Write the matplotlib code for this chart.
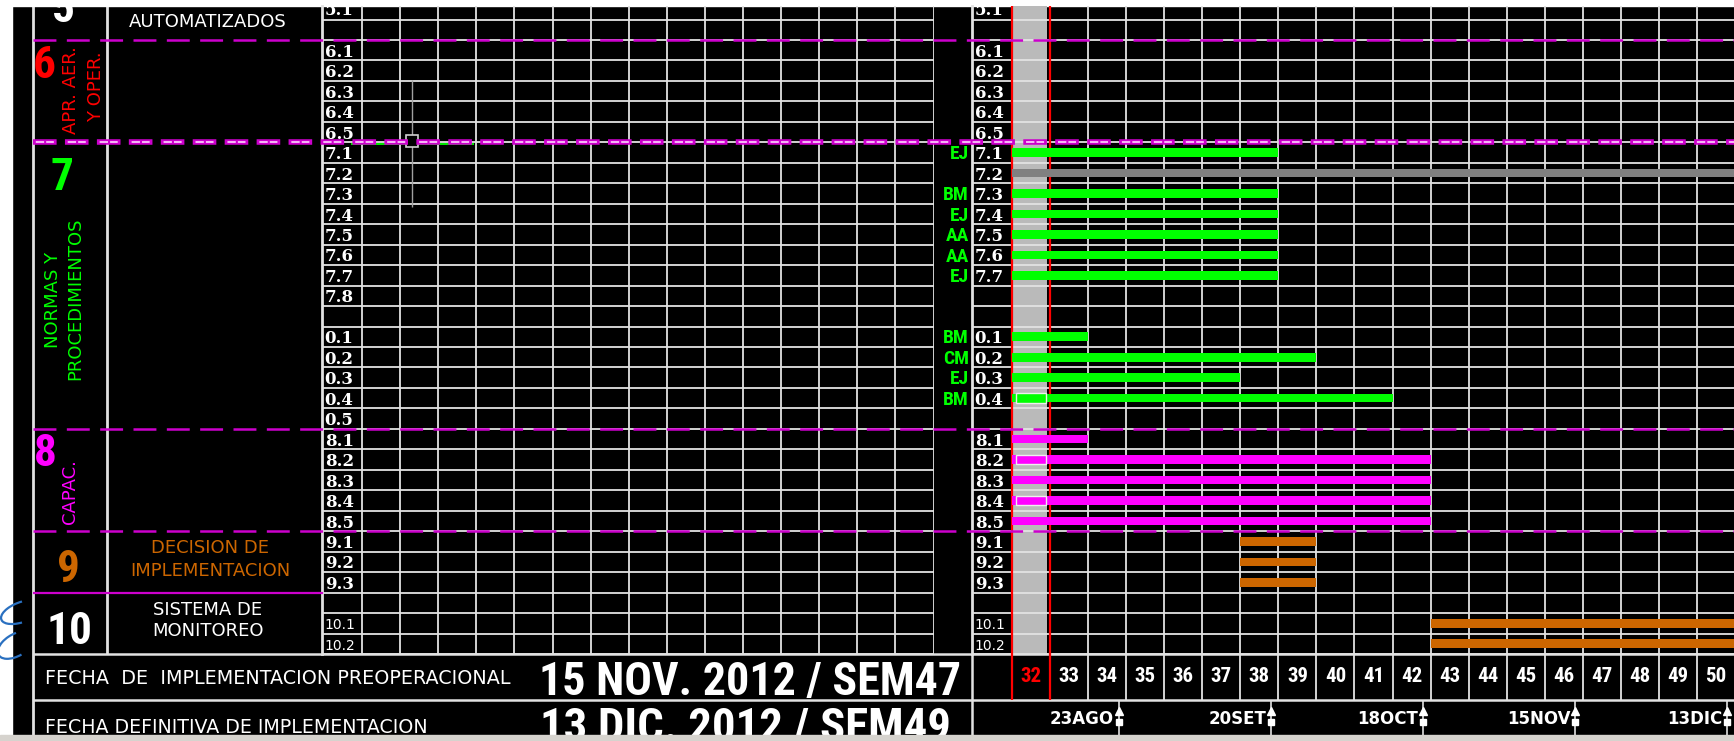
"""
Cronograma de implementacion (semanas 32-50) - recreacion de la hoja.
Salida: out.png
"""
import os
import matplotlib.pyplot as plt
from matplotlib import font_manager
from matplotlib.font_manager import FontProperties
from matplotlib.patches import Rectangle, Arc

plt.rcParams['lines.scale_dashes'] = False
plt.rcParams['font.family'] = 'DejaVu Sans'

# =========================================================
# DATOS
# =========================================================
ROWS = ['6.1', '6.2', '6.3', '6.4', '6.5',
        '7.1', '7.2', '7.3', '7.4', '7.5', '7.6', '7.7', '7.8', '',
        '0.1', '0.2', '0.3', '0.4', '0.5',
        '8.1', '8.2', '8.3', '8.4', '8.5',
        '9.1', '9.2', '9.3', '',
        '10.1', '10.2']
# en el panel derecho 7.8 y 0.5 no tienen rotulo
ROWS_RIGHT = ['6.1', '6.2', '6.3', '6.4', '6.5',
              '7.1', '7.2', '7.3', '7.4', '7.5', '7.6', '7.7', '', '',
              '0.1', '0.2', '0.3', '0.4', '',
              '8.1', '8.2', '8.3', '8.4', '8.5',
              '9.1', '9.2', '9.3', '',
              '10.1', '10.2']

TASK_ROW   = ['7.1', '7.2', '7.3', '7.4', '7.5', '7.6', '7.7',
              '0.1', '0.2', '0.3', '0.4',
              '8.1', '8.2', '8.3', '8.4', '8.5',
              '9.1', '9.2', '9.3', '10.1', '10.2']
TASK_START = [32, 32, 32, 32, 32, 32, 32,
              32, 32, 32, 32,
              32, 32, 32, 32, 32,
              38, 38, 38, 43, 43]
TASK_END   = [39, 52, 39, 39, 39, 39, 39,
              34, 40, 38, 42,
              34, 43, 43, 43, 43,
              40, 40, 40, 52, 52]
TASK_KIND  = ['n', 'g', 'n', 'n', 'n', 'n', 'n',
              'n', 'n', 'n', 'n',
              'c', 'c', 'c', 'c', 'c',
              'd', 'd', 'd', 'd', 'd']

RESP_ROW = ['7.1', '7.3', '7.4', '7.5', '7.6', '7.7', '0.1', '0.2', '0.3', '0.4']
RESP     = ['EJ', 'BM', 'EJ', 'AA', 'AA', 'EJ', 'BM', 'CM', 'EJ', 'BM']

SEL_ROW = ['0.4', '8.2', '8.4']     # celdas seleccionadas en la semana actual

WEEKS    = list(range(32, 51))
CUR_WEEK = 32

DATE_LABELS = ['23AGO', '20SET', '18OCT', '15NOV', '13DIC']
DATE_POS    = [34.8, 38.8, 42.8, 46.8, 50.8]

SEP_DASHED  = [0, 19, 24]   # limites de seccion (filas)
SEP_DASHDOT = 5
SEP_SOLID   = 27

# =========================================================
# ESTILO / GEOMETRIA (pixeles)
# =========================================================
GREEN = '#00ff00'
MAGENTA = '#ff00ff'
ORANGE = '#cc6600'
GREY_BAR = '#808080'
GREY_COL = '#bababa'
SEP = '#cc00cc'
GRID = '#e2e2e2'
RED = '#ff0000'
KIND_COLOR = {'n': GREEN, 'g': GREY_BAR, 'c': MAGENTA, 'd': ORANGE}

W, H, DPI = 1734, 741, 100
X_MARGIN, X_COL1, X_COL2 = 12, 33, 107
X_LGRID, X_LCOLS, COLW_L, X_LEND = 322, 362, 38.1, 934
X_RLBL, X_WEEK0, COLW = 972, 1012, 38.05
Y_TOP, Y_ROW0, ROWH = 6, 40, 20.47
Y_GRID_BOT, Y_WEEK_BOT, Y_BOT = 654, 700, 735


def find_narrow_bold():
    """busca una fuente estrecha en negrita (Narrow / Condensed)"""
    found = []
    for f in font_manager.fontManager.ttflist:
        fn = os.path.basename(f.fname).lower()
        nm = f.name.lower()
        st = str(f.stretch).lower()
        wt = f.weight if isinstance(f.weight, int) else {'bold': 700}.get(str(f.weight), 400)
        narrow = ('narrow' in nm or 'condensed' in nm or 'narrow' in fn or 'cond' in fn
                  or st in ('condensed', 'extra-condensed', 'ultra-condensed'))
        if narrow and wt >= 600 and f.style == 'normal' and 'semi' not in fn and 'extra' not in fn:
            found.append(f.fname)
    pref = ['liberationsansnarrow-bold', 'robotocondensed-bold', 'opensans-condbold',
            'notosans-condensedbold', 'dejavusanscondensed-bold']
    for p in pref:
        for c in found:
            if os.path.basename(c).lower().startswith(p):
                return c
    return found[0] if found else None


NARROW_PATH = find_narrow_bold()
if NARROW_PATH:
    NARROW_FP = FontProperties(fname=NARROW_PATH)
else:
    NARROW_FP = FontProperties(family='DejaVu Sans', weight='bold')
SERIF = dict(family='DejaVu Serif', fontweight='bold')

fig = plt.figure(figsize=(W / DPI, H / DPI), dpi=DPI, facecolor='white')
renderer = fig.canvas.get_renderer()


def fit_width(t, target_px):
    w = t.get_window_extent(renderer=renderer).width
    t.set_fontsize(t.get_fontsize() * target_px / w)
    return t.get_fontsize()


def px_axes(x0, y0, x1, y1):
    ax = fig.add_axes([x0 / W, 1 - y1 / H, (x1 - x0) / W, (y1 - y0) / H])
    ax.set_axis_off()
    return ax


row_top = (Y_TOP - Y_ROW0) / ROWH
nrows = len(ROWS)

# =========================================================
# FONDO, MARCO Y TEXTOS DE SECCION
# =========================================================
bg = fig.add_axes([0, 0, 1, 1])
bg.set_xlim(0, W)
bg.set_ylim(H, 0)
bg.set_axis_off()
bg.add_patch(Rectangle((X_MARGIN, Y_TOP), W - X_MARGIN, Y_BOT - Y_TOP, color='black', zorder=0))
bg.vlines(X_COL1, Y_TOP, Y_BOT, color=GRID, lw=2)
bg.vlines(X_COL2, Y_TOP, Y_GRID_BOT, color=GRID, lw=2)
bg.hlines([Y_GRID_BOT, Y_WEEK_BOT], X_COL1, W, color=GRID, lw=1.8)
bg.vlines(X_RLBL, Y_GRID_BOT, Y_BOT, color=GRID, lw=1.8)

t10 = bg.text(70, 644, '10', color='white', fontsize=32, ha='center', va='baseline',
              fontproperties=NARROW_FP)
big_size = min(fit_width(t10, 46), 36)
t10.set_fontsize(big_size)
big = dict(fontsize=big_size, ha='center', va='baseline', fontproperties=NARROW_FP)
bg.text(63, 22, '5', color='white', **big)
bg.text(44, 78, '6', color=RED, **big)
bg.text(62, 190, '7', color=GREEN, **big)
bg.text(45, 466, '8', color=MAGENTA, **big)
bg.text(68, 582, '9', color=ORANGE, **big)

sec = dict(fontsize=13, ha='center', va='center')
bg.text(208, 22, 'AUTOMATIZADOS', color='white', **sec)
bg.text(71, 90, 'APR. AER.', color=RED, rotation=90, **sec)
bg.text(96, 87, 'Y OPER.', color=RED, rotation=90, **sec)
bg.text(53, 300, 'NORMAS Y', color=GREEN, rotation=90, **sec)
bg.text(75, 299, 'PROCEDIMIENTOS', color=GREEN, rotation=90, **sec)
bg.text(70, 492, 'CAPAC.', color=MAGENTA, rotation=90, **sec)
bg.text(210, 548, 'DECISION DE', color=ORANGE, **sec)
bg.text(210, 571, 'IMPLEMENTACION', color=ORANGE, **sec)
bg.text(208, 610, 'SISTEMA DE', color='white', **sec)
bg.text(208, 631, 'MONITOREO', color='white', **sec)

t = bg.text(45, 684, 'FECHA  DE  IMPLEMENTACION PREOPERACIONAL', color='white',
            fontsize=13, ha='left', va='baseline')
fit_width(t, 462)
t = bg.text(45, 733, 'FECHA DEFINITIVA DE IMPLEMENTACION', color='white',
            fontsize=13, ha='left', va='baseline')
fit_width(t, 382)
t = bg.text(750, 695, '15 NOV. 2012 / SEM47', color='white', fontsize=33,
            ha='center', va='baseline', fontproperties=NARROW_FP)
fit_width(t, 423)
t = bg.text(745, 741, '13 DIC. 2012 / SEM49', color='white', fontsize=33,
            ha='center', va='baseline', fontproperties=NARROW_FP)
fit_width(t, 412)

# bordes blancos / barra inferior de la ventana
bg.add_patch(Rectangle((0, 0), W, Y_TOP, color='white', zorder=50))
bg.add_patch(Rectangle((0, 0), X_MARGIN, H, color='white', zorder=50))
bg.add_patch(Rectangle((0, Y_BOT), W, H - Y_BOT, color='#d6d3ce', zorder=50))
bg.add_patch(Arc((22, 612), 44, 20, angle=-20, theta1=110, theta2=290,
                 color='#2a70c0', lw=1.6, zorder=51))
bg.add_patch(Arc((16, 645), 40, 22, angle=-30, theta1=90, theta2=300,
                 color='#2a70c0', lw=1.6, zorder=51))

# =========================================================
# PANEL IZQUIERDO (rejilla vacia)
# =========================================================
ax_l = px_axes(X_LGRID, Y_TOP, X_LEND, Y_GRID_BOT)
ax_l.set_xlim(-(X_LCOLS - X_LGRID) / COLW_L, (X_LEND - X_LCOLS) / COLW_L)
ax_l.set_ylim(nrows, row_top)
xl0 = ax_l.get_xlim()[0]
for k in range(0, 16):
    ax_l.axvline(k, color=GRID, lw=1.3, zorder=2)
ax_l.axvline(xl0, color=GRID, lw=2, zorder=2, clip_on=False)
for r in range(-1, nrows + 1):
    ax_l.axhline(r, color=GRID, lw=1.3, zorder=2)


def row_label(ax, x, i, lab):
    if lab.startswith('10'):
        kw = dict(family='DejaVu Sans', fontsize=10)
    else:
        kw = dict(fontsize=12, **SERIF)
    ax.text(x, i + 0.6, lab, color='white', ha='left', va='center', zorder=3, **kw)


for i, lab in enumerate(ROWS):
    if lab:
        row_label(ax_l, xl0 + 0.07, i, lab)
ax_l.text(xl0 + 0.07, -1.45, '5.1', color='white', ha='left', va='center',
          fontsize=12, clip_on=True, **SERIF)
# cursor de la pantalla
ax_l.hlines(5.08, -0.3, 2.95, color=GREEN, lw=1.3, zorder=3)
ax_l.vlines(1.3, 1.95, 8.15, color='#a0a0a0', lw=1, zorder=4)
ax_l.plot([1.3], [4.95], marker='s', ms=9, mfc='black', mec='#d0d0d0', mew=1.2, zorder=5)

# =========================================================
# PANEL DERECHO (Gantt)
# =========================================================
ax_r = px_axes(X_RLBL, Y_TOP, W, Y_GRID_BOT)
xlim_r = (WEEKS[0] - (X_WEEK0 - X_RLBL) / COLW, WEEKS[0] + (W - X_WEEK0) / COLW)
ax_r.set_xlim(*xlim_r)
ax_r.set_ylim(nrows, row_top)
ax_r.axvspan(CUR_WEEK, CUR_WEEK + 0.92, color=GREY_COL, zorder=1, lw=0)
for w in range(WEEKS[0] + 1, WEEKS[-1] + 2):
    ax_r.axvline(w, color=GRID, lw=1.3, zorder=2)
ax_r.axvline(xlim_r[0], color=GRID, lw=2, zorder=2, clip_on=False)
for r in range(-1, nrows + 1):
    ax_r.axhline(r, color=GRID, lw=1.3, zorder=2)
ax_r.axvline(CUR_WEEK, color=RED, lw=1.6, zorder=4)
ax_r.axvline(CUR_WEEK + 1, color=RED, lw=1.6, zorder=4)

for i, lab in enumerate(ROWS_RIGHT):
    if lab:
        row_label(ax_r, xlim_r[0] + 0.07, i, lab)
ax_r.text(xlim_r[0] + 0.07, -1.45, '5.1', color='white', ha='left', va='center',
          fontsize=12, clip_on=True, **SERIF)

for row, s, e, k in zip(TASK_ROW, TASK_START, TASK_END, TASK_KIND):
    y = ROWS.index(row) + 0.5
    ax_r.barh(y, e - s, left=s, height=0.42, color=KIND_COLOR[k], lw=0, zorder=5)
    if row in SEL_ROW:
        ax_r.barh(y, 0.8, left=s + 0.1, height=0.46, color=KIND_COLOR[k],
                  edgecolor='#eeeeee', lw=1, zorder=6)

init_size = 14 if NARROW_PATH else 11.5
for row, ini in zip(RESP_ROW, RESP):
    ax_r.text(xlim_r[0] - 0.08, ROWS.index(row) + 0.58, ini, color=GREEN,
              ha='right', va='center', fontsize=init_size, clip_on=False,
              fontproperties=NARROW_FP)

# fila de semanas
ax_w = px_axes(X_RLBL, Y_GRID_BOT, W, Y_WEEK_BOT)
ax_w.set_xlim(*xlim_r)
ax_w.set_ylim(1, 0)
for w in WEEKS[2:]:
    ax_w.axvline(w, color=GRID, lw=1.3)
ax_w.axvline(CUR_WEEK, color=RED, lw=1.6)
ax_w.axvline(CUR_WEEK + 1, color=RED, lw=1.6)
wk_size = 15 if NARROW_PATH else 13
for w in WEEKS:
    ax_w.text(w + 0.5, 0.5, str(w), color=RED if w == CUR_WEEK else 'white',
              ha='center', va='center', fontsize=wk_size, fontproperties=NARROW_FP)

# fila de fechas
ax_d = px_axes(X_RLBL, Y_WEEK_BOT, W, Y_BOT)
ax_d.set_xlim(*xlim_r)
ax_d.set_ylim(1, 0)
ax_d.vlines(DATE_POS, 0, 1, color=GRID, lw=1.2)
ax_d.plot(DATE_POS, [0.3] * len(DATE_POS), ls='none', marker='^', ms=6, color='white', clip_on=False)
ax_d.plot(DATE_POS, [0.62] * len(DATE_POS), ls='none', marker='s', ms=5, color='white', clip_on=False)
for p, lab in zip(DATE_POS, DATE_LABELS):
    ax_d.text(p - 0.12, 0.55, lab, color='white', ha='right', va='center',
              fontsize=12, fontweight='bold')

# =========================================================
# SEPARADORES DE SECCION
# =========================================================
ax_s = px_axes(X_COL1, Y_TOP, W, Y_GRID_BOT)
ax_s.set_xlim(0, 1)
ax_s.set_ylim(nrows, row_top)
for r in SEP_DASHED:
    ax_s.axhline(r, color=SEP, lw=1.8, ls=(0, (16.5, 7.5)), zorder=8)
ax_s.axhline(SEP_DASHDOT, color=SEP, lw=4, ls=(0, (17, 6)), zorder=8)
ax_s.axhline(SEP_DASHDOT, color='#ffd8ff', lw=1.2, ls=(21, (6, 1.5, 5.5, 10)), zorder=9)
ax_s.axhline(SEP_SOLID, xmax=(X_LGRID - X_COL1) / (W - X_COL1), color=SEP, lw=1.6, zorder=8)

fig.savefig('out.png', dpi=DPI, facecolor='white')
